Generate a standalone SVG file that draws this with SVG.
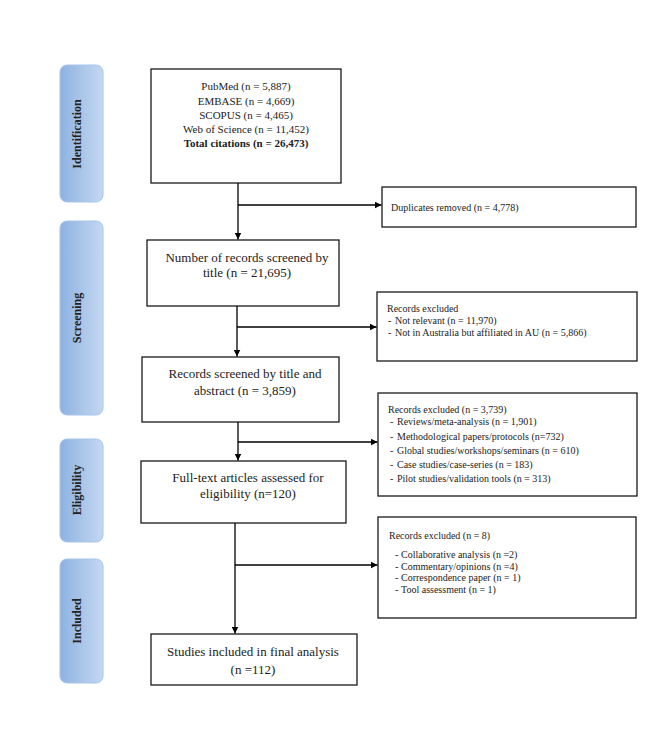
<svg xmlns="http://www.w3.org/2000/svg" width="666" height="730" viewBox="0 0 666 730">
<defs>
<linearGradient id="side" x1="0" y1="0" x2="1" y2="0">
<stop offset="0" stop-color="#8db2e2"/>
<stop offset="1" stop-color="#c4d8f1"/>
</linearGradient>
<marker id="arr" viewBox="0 0 10 10" refX="10" refY="5" markerWidth="7" markerHeight="7" markerUnits="userSpaceOnUse" orient="auto">
<path d="M0,0 L10,5 L0,10 Z" fill="#000"/>
</marker>
<style>
.side{fill:url(#side);stroke:#a9c4ea;stroke-width:1}
.st{font-family:"Liberation Serif",serif;font-weight:bold;font-size:12px;fill:#222;text-anchor:middle}
.box{fill:#fff;stroke:#1a1a1a;stroke-width:1.3}
.t11{font-family:"Liberation Serif",serif;font-size:11px;fill:#222;text-anchor:middle}
.t13{font-family:"Liberation Serif",serif;font-size:13px;fill:#222;text-anchor:middle}
.t10{font-family:"Liberation Serif",serif;font-size:10px;fill:#222}
.ln{fill:none;stroke:#000;stroke-width:1.3}
</style>
</defs>
<rect width="666" height="730" fill="#fff"/>

<g id="stage-identification">
<rect class="side" x="60" y="65" width="43" height="137" rx="7"/>
<text class="st" transform="translate(77,134) rotate(-90)" y="4">Identification</text>
</g>
<g id="stage-screening">
<rect class="side" x="60" y="221" width="43" height="194" rx="7"/>
<text class="st" transform="translate(77,318) rotate(-90)" y="4">Screening</text>
</g>
<g id="stage-eligibility">
<rect class="side" x="60" y="439" width="43" height="103" rx="7"/>
<text class="st" transform="translate(77,490) rotate(-90)" y="4">Eligibility</text>
</g>
<g id="stage-included">
<rect class="side" x="60" y="559" width="43" height="124" rx="7"/>
<text class="st" transform="translate(77,621) rotate(-90)" y="4">Included</text>
</g>

<g id="databases">
<rect class="box" x="151" y="69" width="190" height="114"/>
<text class="t11" x="246" y="90">PubMed (n = 5,887)</text>
<text class="t11" x="246" y="105">EMBASE (n = 4,669)</text>
<text class="t11" x="246" y="119">SCOPUS (n = 4,465)</text>
<text class="t11" x="246" y="133">Web of Science (n = 11,452)</text>
<text class="t11" x="246" y="147" font-weight="bold">Total citations (n = 26,473)</text>
</g>

<g id="duplicates">
<rect class="box" x="382" y="187" width="254" height="40"/>
<text class="t10" x="391" y="211">Duplicates removed (n = 4,778)</text>
</g>

<g id="screened-title">
<rect class="box" x="147" y="240" width="192" height="66"/>
<text class="t13" x="247" y="262">Number of records screened by</text>
<text class="t13" x="247" y="277">title (n = 21,695)</text>
</g>

<g id="excluded-1">
<rect class="box" x="377" y="292" width="260" height="69"/>
<text class="t10" x="387" y="312">Records excluded</text>
<text class="t10" x="388" y="324">-</text><text class="t10" x="395" y="324">Not relevant (n = 11,970)</text>
<text class="t10" x="388" y="336">-</text><text class="t10" x="395" y="336">Not in Australia but affiliated in AU (n = 5,866)</text>
</g>

<g id="screened-abstract">
<rect class="box" x="142" y="357" width="197" height="65"/>
<text class="t13" x="245" y="378">Records screened by title and</text>
<text class="t13" x="245" y="395">abstract (n = 3,859)</text>
</g>

<g id="excluded-2">
<rect class="box" x="378" y="393" width="259" height="103"/>
<text class="t10" x="388" y="413">Records excluded (n = 3,739)</text>
<text class="t10" x="390" y="425">-</text><text class="t10" x="397" y="425">Reviews/meta-analysis (n = 1,901)</text>
<text class="t10" x="390" y="440">-</text><text class="t10" x="397" y="440">Methodological papers/protocols (n=732)</text>
<text class="t10" x="390" y="454">-</text><text class="t10" x="397" y="454">Global studies/workshops/seminars (n = 610)</text>
<text class="t10" x="390" y="468">-</text><text class="t10" x="397" y="468">Case studies/case-series (n = 183)</text>
<text class="t10" x="390" y="482">-</text><text class="t10" x="397" y="482">Pilot studies/validation tools (n = 313)</text>
</g>

<g id="full-text">
<rect class="box" x="141" y="461" width="205" height="62"/>
<text class="t13" x="248" y="482">Full-text articles assessed for</text>
<text class="t13" x="248" y="498">eligibility (n=120)</text>
</g>

<g id="excluded-3">
<rect class="box" x="378" y="517" width="258" height="101"/>
<text class="t10" x="389" y="539">Records excluded (n = 8)</text>
<text class="t10" x="395" y="558">-</text><text class="t10" x="401" y="558">Collaborative analysis (n =2)</text>
<text class="t10" x="395" y="570">-</text><text class="t10" x="401" y="570">Commentary/opinions (n =4)</text>
<text class="t10" x="395" y="581">-</text><text class="t10" x="401" y="581">Correspondence paper (n = 1)</text>
<text class="t10" x="395" y="593">-</text><text class="t10" x="401" y="593">Tool assessment (n = 1)</text>
</g>

<g id="included">
<rect class="box" x="151" y="634" width="206" height="51"/>
<text class="t13" x="253" y="656">Studies included in final analysis</text>
<text class="t13" x="253" y="674">(n =112)</text>
</g>

<g id="connectors">
<path class="ln" d="M238,183 V239.5" marker-end="url(#arr)"/>
<path class="ln" d="M238,205 H381.5" marker-end="url(#arr)"/>
<path class="ln" d="M237,306 V356.5" marker-end="url(#arr)"/>
<path class="ln" d="M237,327 H376.5" marker-end="url(#arr)"/>
<path class="ln" d="M238,422 V460.5" marker-end="url(#arr)"/>
<path class="ln" d="M238,442 H377.5" marker-end="url(#arr)"/>
<path class="ln" d="M235,523 V633.5" marker-end="url(#arr)"/>
<path class="ln" d="M235,565 H377.5" marker-end="url(#arr)"/>
</g>
</svg>
